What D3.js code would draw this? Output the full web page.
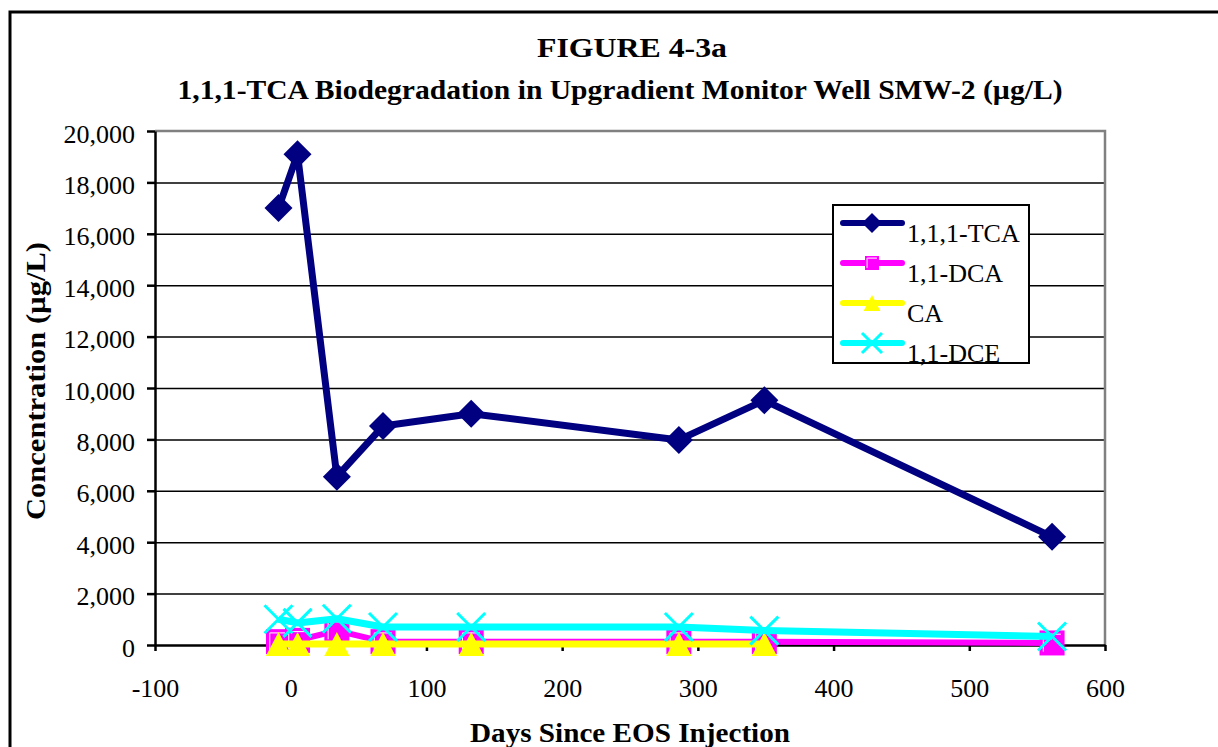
<!DOCTYPE html>
<html>
<head>
<meta charset="utf-8">
<script src="https://cdn.jsdelivr.net/npm/d3@7"></script>
<style>
  body { margin: 0; background: #fff; }
  svg text { font-family: "Liberation Serif", "Times New Roman", serif; }
</style>
</head>
<body>
<svg id="chart" width="1218" height="747"></svg>
<script>
// data
const days = [-9, 5, 34, 68, 133, 286, 349, 561];
const tca = [17000, 19100, 6550, 8520, 9000, 7980, 9520, 4210];
const dca = [130, 180, 560, 130, 130, 130, 130, 80];
const caDays = [-9, 5, 34, 68, 133, 286, 349];
const ca = [40, 40, 40, 40, 40, 40, 40];
const dce = [1000, 860, 1020, 700, 700, 700, 560, 330];
const xTicks = [-100, 0, 100, 200, 300, 400, 500, 600];
const yTicks = [0, 2000, 4000, 6000, 8000, 10000, 12000, 14000, 16000, 18000, 20000];

const seriesNames = ['1,1,1-TCA', '1,1-DCA', 'CA', '1,1-DCE'];
const colors = ['#000080', '#ff00ff', '#ffff00', '#00ffff'];

const svg = d3.select('#chart');
const plotLeft = 155, plotRight = 1105, plotTop = 131, plotBottom = 645;

const x = d3.scaleLinear().domain([-100, 600]).range([plotLeft, plotRight]);
const y = d3.scaleLinear().domain([0, 20000]).range([plotBottom, plotTop]);

// outer frame
svg.append('rect')
  .attr('x', 10).attr('y', 12).attr('width', 1230).attr('height', 760)
  .attr('fill', 'none').attr('stroke', '#000').attr('stroke-width', 3);

// titles
svg.append('text').attr('x', 632).attr('y', 57).attr('text-anchor', 'middle')
  .attr('font-weight', 'bold').attr('font-size', 27)
  .attr('textLength', 190).attr('lengthAdjust', 'spacingAndGlyphs')
  .text('FIGURE 4-3a');
svg.append('text').attr('x', 620).attr('y', 99).attr('text-anchor', 'middle')
  .attr('font-weight', 'bold').attr('font-size', 27)
  .attr('textLength', 885).attr('lengthAdjust', 'spacingAndGlyphs')
  .text('1,1,1-TCA Biodegradation in Upgradient Monitor Well SMW-2 (µg/L)');

// gridlines
svg.append('g')
  .attr('transform', `translate(${plotLeft},0)`)
  .call(d3.axisLeft(y).tickValues(yTicks.slice(1, -1)).tickSize(-(plotRight - plotLeft)).tickFormat(''))
  .call(g => g.select('.domain').remove())
  .call(g => g.selectAll('line').attr('stroke', '#000').attr('stroke-width', 1.5));

// plot frame top/right (gray)
svg.append('path')
  .attr('d', `M${plotLeft},${plotTop}H${plotRight}V${plotBottom}`)
  .attr('fill', 'none').attr('stroke', '#808080').attr('stroke-width', 2.5);

// y axis
svg.append('g')
  .attr('transform', `translate(${plotLeft},0)`)
  .call(d3.axisLeft(y).tickValues(yTicks).tickSize(8).tickSizeOuter(0).tickFormat(d3.format(',')))
  .call(g => g.select('.domain').attr('stroke-width', 2.5))
  .call(g => g.selectAll('line').attr('stroke-width', 2.5))
  .call(g => g.selectAll('text')
    .attr('x', -20).attr('dy', 11)
    .attr('font-size', 26).attr('fill', '#000')
    .attr('font-family', '"Liberation Serif", serif'));

// x axis
svg.append('g')
  .attr('transform', `translate(0,${plotBottom})`)
  .call(d3.axisBottom(x).tickValues(xTicks).tickSize(6).tickSizeOuter(0).tickFormat(d => String(d)))
  .call(g => g.select('.domain').attr('stroke-width', 2.5))
  .call(g => g.selectAll('line').attr('stroke-width', 2.5))
  .call(g => g.selectAll('text')
    .attr('y', 52).attr('dy', 0)
    .attr('font-size', 26).attr('fill', '#000')
    .attr('font-family', '"Liberation Serif", serif'));

// axis titles
svg.append('text')
  .attr('transform', 'translate(45,381) rotate(-90)')
  .attr('text-anchor', 'middle').attr('font-weight', 'bold').attr('font-size', 28)
  .attr('textLength', 278).attr('lengthAdjust', 'spacingAndGlyphs')
  .text('Concentration (µg/L)');
svg.append('text').attr('x', 630).attr('y', 742).attr('text-anchor', 'middle')
  .attr('font-weight', 'bold').attr('font-size', 28)
  .attr('textLength', 320).attr('lengthAdjust', 'spacingAndGlyphs')
  .text('Days Since EOS Injection');

// marker drawers
function diamond(g, cx, cy, s) {
  g.append('path')
    .attr('d', `M${cx},${cy - s}L${cx + s},${cy}L${cx},${cy + s}L${cx - s},${cy}Z`)
    .attr('fill', colors[0]);
}
function square(g, cx, cy, s) {
  g.append('rect').attr('x', cx - s).attr('y', cy - s).attr('width', 2 * s).attr('height', 2 * s)
    .attr('fill', colors[1]);
  const i = s * 0.3;
  g.append('path')
    .attr('d', `M${cx - s + i},${cy + s - i}V${cy - s + i}H${cx + s - i}`)
    .attr('fill', 'none').attr('stroke', '#fff').attr('stroke-width', 1);
}
function triangle(g, cx, cy, s) {
  g.append('path')
    .attr('d', `M${cx},${cy - s}L${cx + s * 1.05},${cy + s}L${cx - s * 1.05},${cy + s}Z`)
    .attr('fill', colors[2]);
}
function cross(g, cx, cy, s) {
  g.append('path')
    .attr('d', `M${cx - s},${cy - s}L${cx + s},${cy + s}M${cx - s},${cy + s}L${cx + s},${cy - s}`)
    .attr('stroke', colors[3]).attr('stroke-width', 3);
}

const series = [
  { xs: days, ys: tca, color: colors[0], width: 7, draw: diamond, size: 14 },
  { xs: days, ys: dca, color: colors[1], width: 6, draw: square, size: 12.5 },
  { xs: caDays, ys: ca, color: colors[2], width: 7, draw: triangle, size: 12 },
  { xs: days, ys: dce, color: colors[3], width: 7, draw: cross, size: 14 }
];

const line = d3.line().x(d => x(d[0])).y(d => y(d[1]));
const plot = svg.append('g');

series.forEach(s => {
  const pts = s.xs.map((d, i) => [d, s.ys[i]]);
  plot.append('path').datum(pts)
    .attr('d', line)
    .attr('fill', 'none').attr('stroke', s.color).attr('stroke-width', s.width)
    .attr('stroke-linejoin', 'round');
  pts.forEach(p => s.draw(plot, x(p[0]), y(p[1]), s.size));
});

// legend
const lg = svg.append('g');
lg.append('rect').attr('x', 833).attr('y', 205).attr('width', 196).attr('height', 158)
  .attr('fill', '#fff').attr('stroke', '#000').attr('stroke-width', 2);
const legendSizes = [10, 7, 8, 10];
seriesNames.forEach((name, i) => {
  const ly = 223 + i * 40;
  lg.append('line').attr('x1', 843).attr('x2', 902).attr('y1', ly).attr('y2', ly)
    .attr('stroke', colors[i]).attr('stroke-width', 6).attr('stroke-linecap', 'round');
  series[i].draw(lg, 872, ly, legendSizes[i]);
  lg.append('text').attr('x', 907).attr('y', ly + 19)
    .attr('font-size', 26).text(name);
});
</script>
</body>
</html>
